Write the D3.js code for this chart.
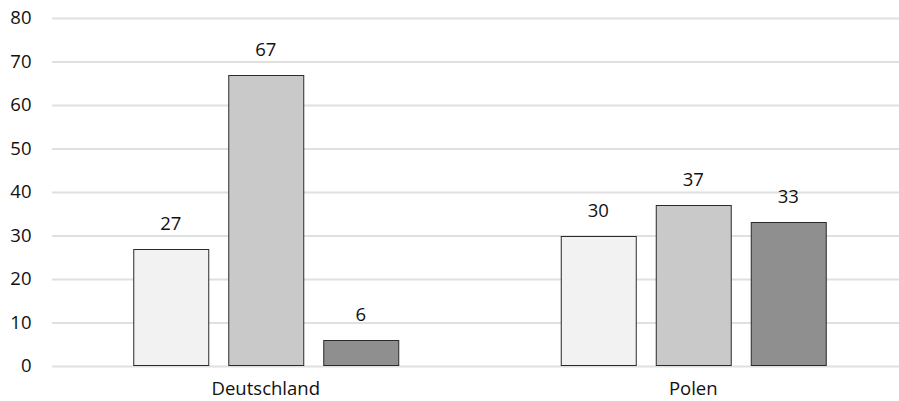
<!DOCTYPE html>
<html>
<head>
<meta charset="utf-8">
<script src="https://cdn.jsdelivr.net/npm/d3@7"></script>
<style>
  html, body { margin: 0; padding: 0; background: #ffffff; }
  svg { display: block; font-family: "Open Sans", "Noto Sans", sans-serif; }
</style>
</head>
<body>
<svg id="chart" width="899" height="401"></svg>
<script>
// Data
const categories = ["Deutschland", "Polen"];
const seriesNames = ["Serie 1", "Serie 2", "Serie 3"];
const series1 = [27, 30];
const series2 = [67, 37];
const series3 = [6, 33];
const yTicks = [0, 10, 20, 30, 40, 50, 60, 70, 80];
const seriesColors = ["#f2f2f2", "#c9c9c9", "#8f8f8f"];

const seriesValues = [series1, series2, series3];
const rows = categories.map((c, i) => ({
  category: c,
  values: seriesValues.map((s, j) => ({ key: seriesNames[j], value: s[i], idx: j }))
}));

const width = 899, height = 401;
const margin = { top: 18, right: -8, bottom: 35, left: 52 };
const FS = 18.5;
const svg = d3.select("#chart");

const x0 = d3.scaleBand()
  .domain(categories)
  .range([margin.left, width - margin.right])
  .paddingInner(0)
  .paddingOuter(0);

const innerPad = 81.25 / x0.bandwidth();
const x1 = d3.scaleBand()
  .domain(seriesNames)
  .range([x0.bandwidth() * innerPad, x0.bandwidth() * (1 - innerPad)])
  .paddingInner(20 / 95)
  .paddingOuter(0);

const y = d3.scaleLinear()
  .domain([0, 80])
  .range([height - margin.bottom, margin.top]);

// Gridlines
const grid = svg.append("g")
  .attr("transform", `translate(${margin.left},0)`)
  .call(d3.axisLeft(y).tickValues(yTicks).tickSize(-(width - margin.left)).tickFormat(""));
grid.select(".domain").remove();
grid.selectAll(".tick line").attr("stroke", "#e0e0e0").attr("stroke-width", 2);

// Y tick labels
const yAxis = svg.append("g")
  .attr("transform", `translate(31.5,0)`)
  .call(d3.axisLeft(y).tickValues(yTicks).tickSize(0).tickPadding(0));
yAxis.select(".domain").remove();
yAxis.selectAll("text")
  .attr("font-family", "'Open Sans', 'Noto Sans', sans-serif")
  .attr("font-size", FS)
  .attr("fill", "#111");

// Bars
const groups = svg.append("g").selectAll("g")
  .data(rows)
  .join("g")
  .attr("transform", d => `translate(${x0(d.category)},0)`);

groups.selectAll("rect")
  .data(d => d.values)
  .join("rect")
  .attr("x", d => x1(d.key) + 0.5)
  .attr("y", d => Math.round(y(d.value)) + 0.5)
  .attr("width", x1.bandwidth())
  .attr("height", d => y(0) - Math.round(y(d.value)) - 1)
  .attr("fill", d => seriesColors[d.idx])
  .attr("stroke", "#2a2a2a")
  .attr("stroke-width", 1);

groups.selectAll("text.val")
  .data(d => d.values)
  .join("text")
  .attr("class", "val")
  .attr("x", d => x1(d.key) + x1.bandwidth() / 2)
  .attr("y", d => y(d.value) - 19)
  .attr("text-anchor", "middle")
  .attr("font-size", FS)
  .attr("fill", "#111")
  .text(d => d.value);

// Category labels
const xAxis = svg.append("g")
  .attr("transform", `translate(0,${y(0)})`)
  .call(d3.axisBottom(x0).tickSize(0).tickPadding(0));
xAxis.select(".domain").remove();
xAxis.selectAll("text")
  .attr("font-family", "'Open Sans', 'Noto Sans', sans-serif")
  .attr("font-size", FS)
  .attr("fill", "#111")
  .attr("dy", null)
  .attr("y", 29)
  .attr("x", (x1("Serie 2") + x1.bandwidth() / 2) - x0.bandwidth() / 2);
</script>
</body>
</html>
